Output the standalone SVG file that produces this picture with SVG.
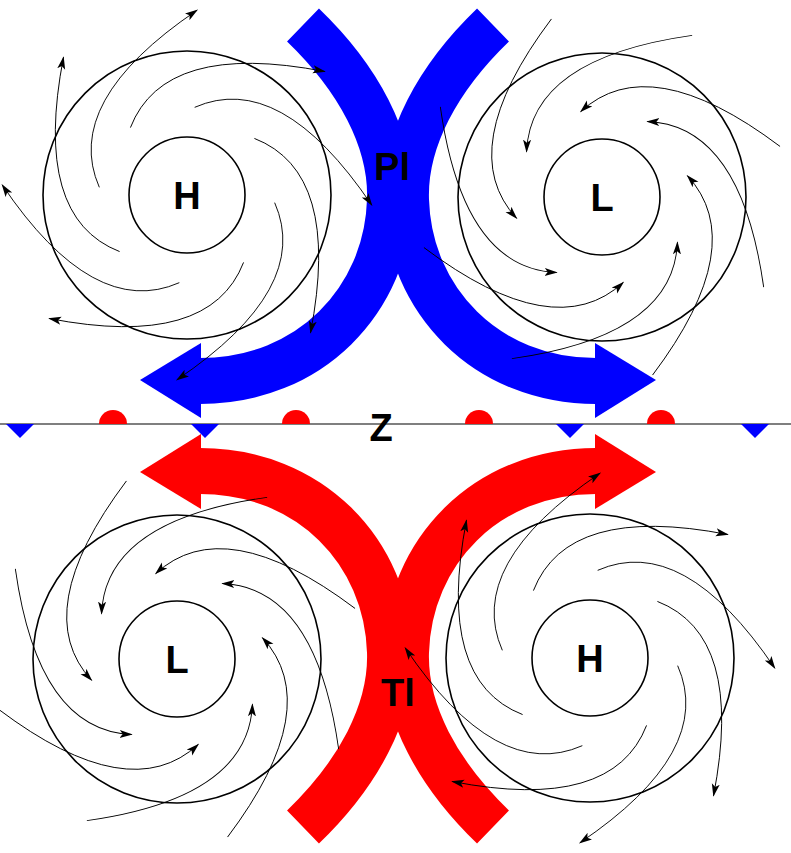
<svg xmlns="http://www.w3.org/2000/svg" xmlns:xlink="http://www.w3.org/1999/xlink" width="791" height="853" viewBox="0 0 791 853">
<style>
.band{fill:none;stroke-width:46;stroke-linecap:butt}
.ring{fill:none;stroke:#000;stroke-width:1.6}
.arm{fill:none;stroke:#000;stroke-width:0.9}
.lbl{font-family:"Liberation Sans",Arial,sans-serif;font-weight:bold;font-size:38px;text-anchor:middle;fill:#000}
</style>
<defs>
<marker id="ah" markerUnits="userSpaceOnUse" markerWidth="14" markerHeight="10" refX="12" refY="4" orient="auto">
<path d="M0,0 L13,4 L0,8 L3,4 z" fill="#000"/>
</marker>
<path id="harm" class="arm" d="M88,0 Q133,82 6,185" marker-end="url(#ah)"/>
<path id="larm" class="arm" d="M6,185 Q133,82 88,0" marker-end="url(#ah)"/>
<g id="bluearrow">
<path class="band" stroke="#0000ff" d="M303,25 C358,78 392,140 390,200 C387,300 310,381 200,381"/>
<polygon fill="#0000ff" points="201,343 140,380 201,418"/>
</g>
<g id="redarrow">
<path class="band" stroke="#ff0000" d="M303,25 C358,78 392,140 390,200 C387,300 310,381 200,381"/>
<polygon fill="#ff0000" points="201,343 140,380 201,418"/>
</g>
</defs>
<rect width="791" height="853" fill="#fff"/>
<g id="arrows">
<use xlink:href="#bluearrow"/>
<use xlink:href="#bluearrow" transform="translate(796,0) scale(-1,1)"/>
<use xlink:href="#redarrow" transform="translate(0,852) scale(1,-1)"/>
<use xlink:href="#redarrow" transform="translate(796,852) scale(-1,-1)"/>
</g>
<g id="front">
<line x1="0" y1="424" x2="791" y2="424" stroke="#555" stroke-width="1.5"/>
<g fill="#ff0000">
<path d="M99,424 A14,14 0 0 1 127,424 z"/>
<path d="M282,424 A14,14 0 0 1 310,424 z"/>
<path d="M465,424 A14,14 0 0 1 493,424 z"/>
<path d="M647,424 A14,14 0 0 1 675,424 z"/>
</g>
<g fill="#0000ff">
<polygon points="6,424 34,424 20,438"/>
<polygon points="191,424 219,424 205,438"/>
<polygon points="556,424 584,424 570,438"/>
<polygon points="741,424 769,424 755,438"/>
</g>
<text class="lbl" x="381" y="441" font-size="34">Z</text>
</g>
<g id="H1" transform="translate(187,195)">
<circle class="ring" r="58"/><circle class="ring" r="144"/>
<use xlink:href="#harm" transform="rotate(5)"/><use xlink:href="#harm" transform="rotate(50)"/>
<use xlink:href="#harm" transform="rotate(95)"/><use xlink:href="#harm" transform="rotate(140)"/>
<use xlink:href="#harm" transform="rotate(185)"/><use xlink:href="#harm" transform="rotate(230)"/>
<use xlink:href="#harm" transform="rotate(275)"/><use xlink:href="#harm" transform="rotate(320)"/>
<text class="lbl" x="0" y="14">H</text>
</g>
<g id="L1" transform="translate(602,197)">
<circle class="ring" r="58"/><circle class="ring" r="144"/>
<use xlink:href="#larm" transform="rotate(31)"/><use xlink:href="#larm" transform="rotate(76)"/>
<use xlink:href="#larm" transform="rotate(121)"/><use xlink:href="#larm" transform="rotate(166)"/>
<use xlink:href="#larm" transform="rotate(211)"/><use xlink:href="#larm" transform="rotate(256)"/>
<use xlink:href="#larm" transform="rotate(301)"/><use xlink:href="#larm" transform="rotate(346)"/>
<text class="lbl" x="0" y="14">L</text>
</g>
<g id="L2" transform="translate(177,659)">
<circle class="ring" r="58"/><circle class="ring" r="144"/>
<use xlink:href="#larm" transform="rotate(31)"/><use xlink:href="#larm" transform="rotate(76)"/>
<use xlink:href="#larm" transform="rotate(121)"/><use xlink:href="#larm" transform="rotate(166)"/>
<use xlink:href="#larm" transform="rotate(211)"/><use xlink:href="#larm" transform="rotate(256)"/>
<use xlink:href="#larm" transform="rotate(301)"/><use xlink:href="#larm" transform="rotate(346)"/>
<text class="lbl" x="0" y="14">L</text>
</g>
<g id="H2" transform="translate(590,658)">
<circle class="ring" r="58"/><circle class="ring" r="144"/>
<use xlink:href="#harm" transform="rotate(5)"/><use xlink:href="#harm" transform="rotate(50)"/>
<use xlink:href="#harm" transform="rotate(95)"/><use xlink:href="#harm" transform="rotate(140)"/>
<use xlink:href="#harm" transform="rotate(185)"/><use xlink:href="#harm" transform="rotate(230)"/>
<use xlink:href="#harm" transform="rotate(275)"/><use xlink:href="#harm" transform="rotate(320)"/>
<text class="lbl" x="0" y="14">H</text>
</g>
<text class="lbl" x="392" y="180">Pl</text>
<text class="lbl" x="398" y="706">Tl</text>
</svg>
